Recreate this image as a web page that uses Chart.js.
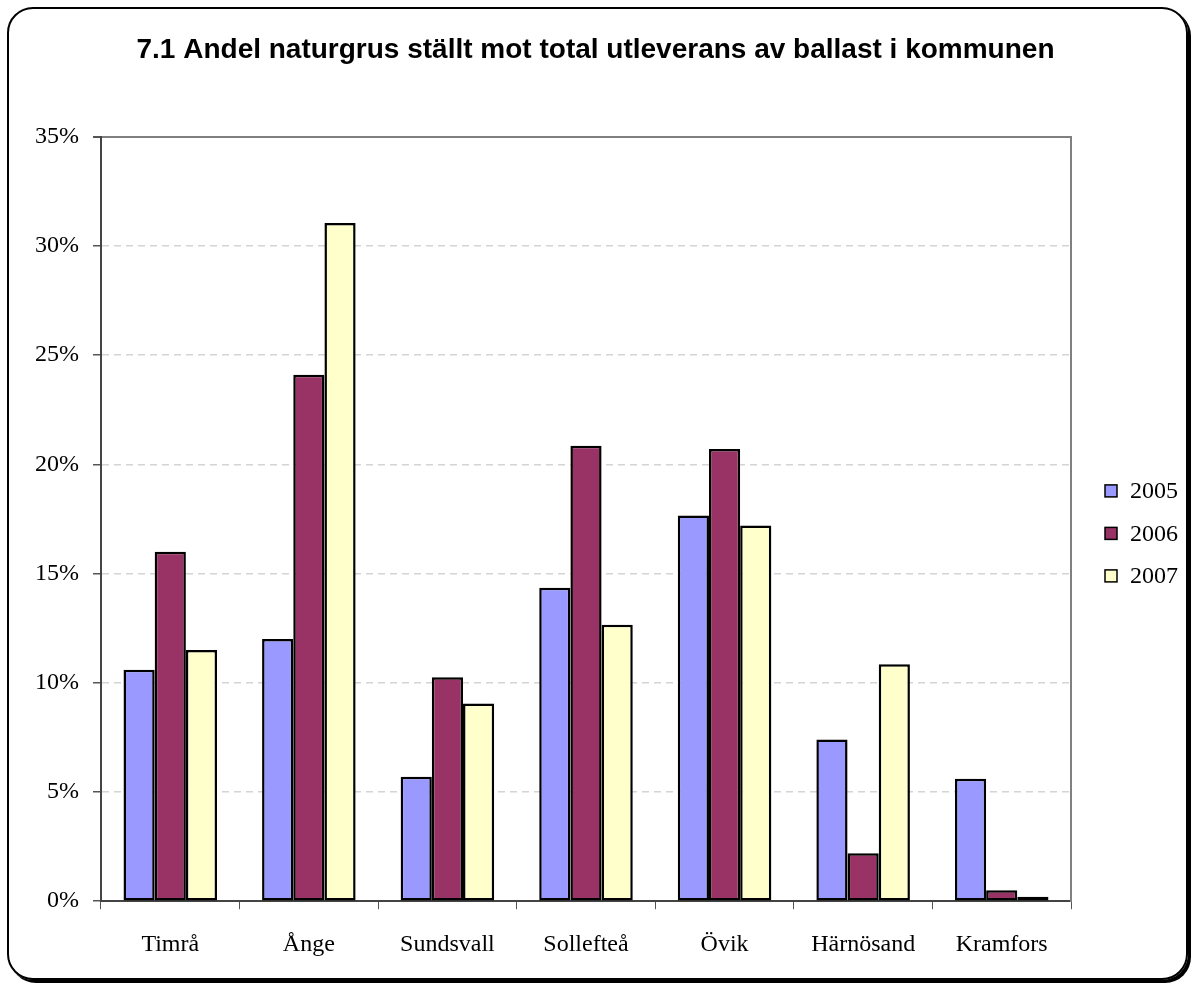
<!DOCTYPE html>
<html lang="sv">

<head>
  <meta charset="UTF-8">
  <title>7.1 Andel naturgrus</title>
  <script src="https://cdn.jsdelivr.net/npm/chart.js"></script>
  <style>
    html, body {
      margin: 0;
      padding: 0;
      background: #fff;
    }
    .wrap {
      position: relative;
      width: 1191px;
      height: 985px;
    }
    .frame {
      position: absolute;
      left: 7px;
      top: 7px;
      width: 1177px;
      height: 969px;
      border: 2px solid #000;
      border-radius: 26px;
      box-shadow: 3px 3px 0 #000;
      pointer-events: none;
    }
    canvas {
      position: absolute;
      left: 0;
      top: 0;
    }
  </style>
</head>

<body>
  <div class="wrap">
    <canvas id="sandChart" width="1191" height="985"></canvas>
    <div class="frame"></div>
  </div>

  <script>
    // kommuner och andel naturgrus (%)
    const kommuner = ['Timrå', 'Ånge', 'Sundsvall', 'Sollefteå', 'Övik', 'Härnösand', 'Kramfors'];
    const ar2005 = [10.6, 12.0, 5.7, 14.35, 17.65, 7.4, 5.6];
    const ar2006 = [16.0, 24.1, 10.25, 20.85, 20.7, 2.2, 0.5];
    const ar2007 = [11.5, 31.05, 9.05, 12.65, 17.2, 10.85, 0.2];
    const arLabels = ['2005', '2006', '2007'];
    const yTicks = [0, 5, 10, 15, 20, 25, 30, 35];

    const serif = "'Liberation Serif', 'Times New Roman', serif";

    // förklaring till höger
    const sideLegend = {
      id: 'sideLegend',
      afterDraw(chart) {
        const { ctx, chartArea } = chart;
        const x = chartArea.right + 34;
        let y = (chartArea.top + chartArea.bottom) / 2 - 28;
        ctx.save();
        ctx.font = '24px ' + serif;
        ctx.textBaseline = 'middle';
        chart.data.datasets.forEach(function (ds) {
          ctx.fillStyle = ds.backgroundColor;
          ctx.fillRect(x, y - 6, 12, 12);
          ctx.strokeStyle = '#000';
          ctx.lineWidth = 1.5;
          ctx.strokeRect(x, y - 6, 12, 12);
          ctx.fillStyle = '#000';
          ctx.fillText(ds.label, x + 25, y + 1);
          y += 42.5;
        });
        ctx.restore();
      }
    };

    const ctx = document.getElementById('sandChart').getContext('2d');
    new Chart(ctx, {
      type: 'bar',
      data: {
        labels: kommuner,
        datasets: [
          { label: arLabels[0], data: ar2005, backgroundColor: '#9999FF' },
          { label: arLabels[1], data: ar2006, backgroundColor: '#993366' },
          { label: arLabels[2], data: ar2007, backgroundColor: '#FFFFCC' }
        ]
      },
      options: {
        responsive: false,
        animation: false,
        devicePixelRatio: 1,
        layout: {
          padding: { left: 21, right: 21, top: 8, bottom: 5 }
        },
        datasets: {
          bar: {
            categoryPercentage: 0.675,
            barPercentage: 1.0,
            borderColor: '#000',
            borderWidth: 2.5,
            borderSkipped: false
          }
        },
        plugins: {
          legend: { display: false },
          tooltip: { enabled: false },
          title: {
            display: true,
            text: '7.1 Andel naturgrus ställt mot total utleverans av ballast i kommunen',
            color: '#000',
            font: { family: "'Liberation Sans', Arial, sans-serif", size: 28, weight: 'bold' },
            padding: { top: 25, bottom: 70 }
          }
        },
        scales: {
          x: {
            grid: {
              offset: true,
              drawOnChartArea: false,
              drawTicks: true,
              tickLength: 8,
              color: '#555'
            },
            border: { color: '#444', width: 2 },
            ticks: {
              color: '#000',
              padding: 21,
              font: { family: serif, size: 24 }
            }
          },
          y: {
            min: 0,
            max: 35,
            afterBuildTicks(axis) {
              axis.ticks = yTicks.map(v => ({ value: v }));
            },
            grid: {
              color: c => (c.tick && c.tick.value === 35) ? '#808080' : '#d4d4d4',
              lineWidth: c => (c.tick && c.tick.value === 35) ? 2 : 1.5,
              tickLength: 8,
              tickColor: '#555'
            },
            border: {
              color: '#444',
              width: 2,
              dash: c => (c.tick && c.tick.value === 35) ? [] : [7, 5]
            },
            ticks: {
              color: '#000',
              padding: 14,
              font: { family: serif, size: 24 },
              callback: v => v + '%'
            }
          },
          // tom axel till höger: plotytans högra kant och plats för förklaringen
          yRight: {
            position: 'right',
            grid: { display: false, drawTicks: false },
            ticks: { display: false },
            border: { display: true, color: '#808080', width: 2 },
            afterFit(scale) {
              scale.width = 99;
            }
          }
        }
      },
      plugins: [sideLegend]
    });
  </script>
</body>

</html>
